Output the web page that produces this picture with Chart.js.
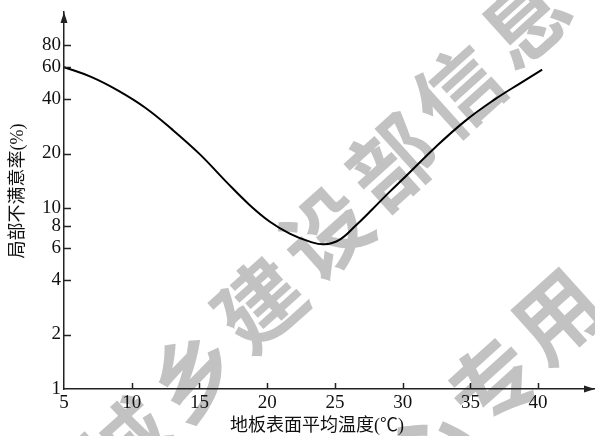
<!DOCTYPE html>
<html><head><meta charset="utf-8">
<script src="https://cdn.jsdelivr.net/npm/chart.js"></script>
<style>html,body{margin:0;padding:0;background:#fff;}canvas{display:block;}</style>
</head><body>
<canvas id="c" width="595" height="436"></canvas>
<script>
// Data
const temperature = [5, 7, 9, 11, 13, 15, 17, 18.7, 20.2, 21.7, 23.2, 24.2, 25.3, 26.5, 27.8, 29, 30, 32.4, 34.6, 36.8, 38.7, 40.3];
const dissatisfied = [60, 53, 44.5, 35.8, 27.1, 19.9, 13.9, 10.4, 8.4, 7.2, 6.5, 6.3, 6.65, 7.95, 9.9, 12.2, 14.4, 21.6, 30.2, 39.8, 49, 58.2];
const xTicks = [5, 10, 15, 20, 25, 30, 35, 40];
const yTicks = [1, 2, 4, 6, 8, 10, 20, 40, 60, 80];
const xTitle = '地板表面平均温度(℃)';
const yTitle = '局部不满意率(%)';
const watermarkLine1 = ['城', '乡', '建', '设', '部', '信', '息', '中'];
const watermarkLine2 = ['心', '专', '用'];

const AXIS = '#222';
const deco = {
  id: 'deco',
  beforeDraw(chart) {
    const ctx = chart.ctx;
    ctx.save();
    ctx.fillStyle = 'rgb(194,194,194)';
    ctx.font = 'bold 86px "Noto Sans CJK SC"';
    ctx.textAlign = 'center';
    ctx.textBaseline = 'middle';
    ctx.translate(458, 91);
    ctx.rotate(-47 * Math.PI / 180);
    watermarkLine1.forEach((ch, i) => {
      ctx.save(); ctx.translate((i - 5) * 97, 0); ctx.rotate(5 * Math.PI / 180);
      ctx.fillText(ch, 0, 0); ctx.restore();
    });
    watermarkLine2.forEach((ch, i) => {
      ctx.save(); ctx.translate(-283 + i * 93, 225); ctx.rotate(5 * Math.PI / 180);
      ctx.fillText(ch, 0, 0); ctx.restore();
    });
    ctx.restore();
  },
  afterDraw(chart) {
    const ctx = chart.ctx;
    const xs = chart.scales.x, ys = chart.scales.y;
    const a = chart.chartArea;
    ctx.save();
    ctx.strokeStyle = AXIS;
    ctx.lineWidth = 1.5;
    xTicks.forEach(v => {
      if (v === xs.min) return;
      const p = Math.round(xs.getPixelForValue(v)) + 0.5;
      ctx.beginPath(); ctx.moveTo(p, a.bottom); ctx.lineTo(p, a.bottom - 6); ctx.stroke();
    });
    yTicks.forEach(v => {
      if (v === ys.min) return;
      const p = Math.round(ys.getPixelForValue(v)) + 0.5;
      ctx.beginPath(); ctx.moveTo(a.left, p); ctx.lineTo(a.left + 7, p); ctx.stroke();
    });
    // arrows
    ctx.fillStyle = AXIS;
    ctx.beginPath();
    ctx.moveTo(a.right, a.bottom); ctx.lineTo(a.right - 11, a.bottom - 3.5); ctx.lineTo(a.right - 11, a.bottom + 3.5); ctx.closePath(); ctx.fill();
    ctx.beginPath();
    ctx.moveTo(a.left, a.top); ctx.lineTo(a.left - 3.5, a.top + 11); ctx.lineTo(a.left + 3.5, a.top + 11); ctx.closePath(); ctx.fill();
    // titles
    ctx.fillStyle = '#111';
    ctx.font = '18px "Liberation Serif", "Noto Sans CJK SC"';
    ctx.textAlign = 'center';
    ctx.textBaseline = 'middle';
    ctx.fillText(xTitle, 317, 426);
    ctx.translate(18, 191);
    ctx.rotate(-Math.PI / 2);
    ctx.fillText(yTitle, 0, 0);
    ctx.restore();
  }
};

new Chart(document.getElementById('c'), {
  type: 'line',
  data: {
    datasets: [{
      data: temperature.map((t, i) => ({ x: t, y: dissatisfied[i] })),
      borderColor: '#000',
      borderWidth: 2,
      pointRadius: 0,
      fill: false,
      tension: 0.4
    }]
  },
  options: {
    responsive: false,
    animation: false,
    devicePixelRatio: 1,
    layout: { padding: { top: 12, right: 0, left: 0, bottom: 0 } },
    plugins: { legend: { display: false }, tooltip: { enabled: false } },
    scales: {
      x: {
        type: 'linear',
        min: 5,
        max: 44.2,
        grid: { display: false, drawTicks: false },
        border: { display: true, color: AXIS, width: 1.5 },
        afterBuildTicks: s => { s.ticks = xTicks.map(v => ({ value: v })); },
        afterFit: s => { s.height = 47; s.paddingLeft = 0; s.paddingRight = 0; },
        ticks: {
          autoSkip: false, maxRotation: 0, padding: 3, color: '#111',
          font: { family: '"Liberation Serif"', size: 19 },
          callback: v => String(v)
        }
      },
      y: {
        type: 'logarithmic',
        min: 1,
        max: 121,
        grid: { display: false, drawTicks: false },
        border: { display: true, color: AXIS, width: 1.5 },
        afterBuildTicks: s => { s.ticks = yTicks.map(v => ({ value: v })); },
        afterFit: s => { s.width = 64; s.paddingTop = 0; s.paddingBottom = 0; },
        ticks: {
          autoSkip: false, padding: 3, color: '#111',
          font: { family: '"Liberation Serif"', size: 19 },
          callback: v => String(v)
        }
      }
    }
  },
  plugins: [deco]
});
</script>
</body></html>
